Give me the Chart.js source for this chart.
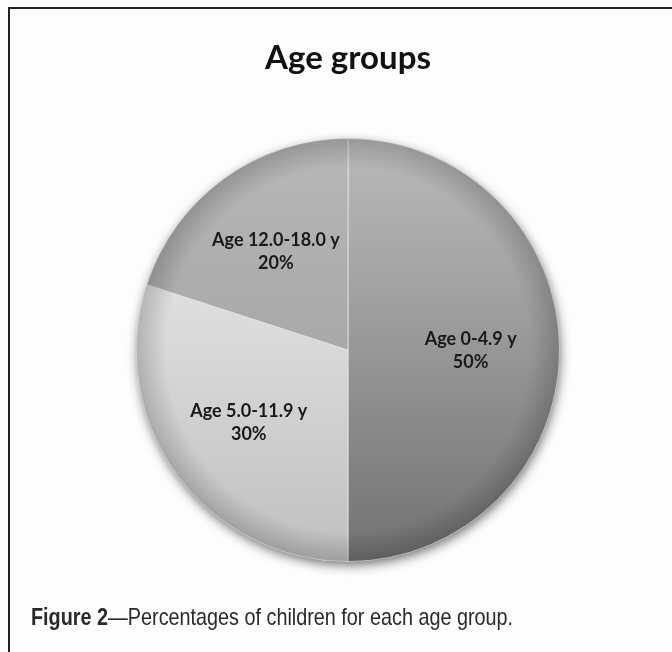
<!DOCTYPE html>
<html>
<head>
<meta charset="utf-8">
<script src="https://cdn.jsdelivr.net/npm/chart.js@4"></script>
<style>
    html, body {
        margin: 0;
        padding: 0;
        background: #fdfdfd;
    }
    .frame {
        position: relative;
        width: 672px;
        height: 652px;
        overflow: hidden;
    }
    .frame-line {
        position: absolute;
        left: 8px;
        top: 7px;
        width: 700px;
        height: 700px;
        border-top: 2px solid #222;
        border-left: 2px solid #222;
    }
    #pieChart {
        position: absolute;
        left: 0;
        top: 0;
    }
    .caption {
        position: absolute;
        left: 31px;
        top: 603px;
        font-family: 'Liberation Sans Narrow', 'Liberation Sans', Arial, sans-serif;
        font-size: 24px;
        color: #2a2a2a;
        white-space: nowrap;
        transform: scaleX(0.825);
        transform-origin: 0 0;
    }
    .caption b {
        font-weight: bold;
    }
</style>
</head>
<body>
<div class="frame">
    <div class="frame-line"></div>
    <canvas id="pieChart" width="672" height="652"></canvas>
    <div class="caption"><b>Figure 2</b>—Percentages of children for each age group.</div>
</div>
<script>
const chartTitle = 'Age groups';
const ageGroups = ['Age 0-4.9 y', 'Age 5.0-11.9 y', 'Age 12.0-18.0 y'];
const percentages = [50, 30, 20];

// gradient stops per slice, top to bottom
const sliceShades = [
    ['#bababa', '#a4a4a4', '#8a8a8a', '#727272'],
    ['#eeeeee', '#e0e0e0', '#d0d0d0', '#c0c0c0'],
    ['#b8b8b8', '#adadad', '#a4a4a4', '#9c9c9c']
];

function sliceGradient(context) {
    const chart = context.chart;
    const area = chart.chartArea;
    if (!area) {
        return sliceShades[context.dataIndex][1];
    }
    const g = chart.ctx.createLinearGradient(0, area.top, 0, area.bottom);
    const shades = sliceShades[context.dataIndex];
    shades.forEach((c, i) => g.addColorStop(i / (shades.length - 1), c));
    return g;
}

// Drop shadow under the pie, darker rim, labels and title
const pieEffects = {
    id: 'pieEffects',
    beforeDatasetsDraw(chart) {
        const arc = chart.getDatasetMeta(0).data[0];
        if (!arc) return;
        const ctx = chart.ctx;
        ctx.save();
        ctx.beginPath();
        ctx.arc(arc.x, arc.y, arc.outerRadius - 1, 0, Math.PI * 2);
        ctx.fillStyle = '#999';
        ctx.shadowColor = 'rgba(0, 0, 0, 0.6)';
        ctx.shadowBlur = 12;
        ctx.shadowOffsetX = 1;
        ctx.shadowOffsetY = 4;
        ctx.fill();
        ctx.restore();
    },
    afterDatasetsDraw(chart) {
        const meta = chart.getDatasetMeta(0);
        const first = meta.data[0];
        if (!first) return;
        const ctx = chart.ctx;
        const r = first.outerRadius;
        ctx.save();
        const rim = ctx.createRadialGradient(first.x, first.y, r * 0.86, first.x, first.y, r);
        rim.addColorStop(0, 'rgba(0, 0, 0, 0)');
        rim.addColorStop(1, 'rgba(0, 0, 0, 0.18)');
        ctx.beginPath();
        ctx.arc(first.x, first.y, r, 0, Math.PI * 2);
        ctx.fillStyle = rim;
        ctx.fill();

        // slice labels
        ctx.font = 'bold 18px Lato, "Open Sans", sans-serif';
        ctx.fillStyle = '#1a1a1a';
        ctx.textAlign = 'center';
        ctx.textBaseline = 'middle';
        meta.data.forEach((el, i) => {
            const mid = (el.startAngle + el.endAngle) / 2;
            const d = el.outerRadius * 0.58;
            const x = el.x + Math.cos(mid) * d;
            const y = el.y + Math.sin(mid) * d;
            ctx.fillText(ageGroups[i], x, y - 11);
            ctx.fillText(percentages[i] + '%', x, y + 12);
        });
        ctx.restore();

        // chart title
        ctx.save();
        ctx.font = 'bold 33px Lato, "Open Sans", sans-serif';
        ctx.fillStyle = '#111';
        ctx.textAlign = 'center';
        ctx.textBaseline = 'alphabetic';
        ctx.fillText(chartTitle, first.x, 69);
        ctx.restore();
    }
};

const ctx = document.getElementById('pieChart').getContext('2d');

const pieChart = new Chart(ctx, {
    type: 'pie',
    data: {
        labels: ageGroups,
        datasets: [
            {
                data: percentages,
                backgroundColor: sliceGradient,
                borderColor: 'rgba(235, 235, 235, 0.7)',
                borderWidth: 1
            }
        ]
    },
    options: {
        responsive: false,
        animation: false,
        layout: {
            padding: { top: 138, bottom: 90, left: 136, right: 112 }
        },
        plugins: {
            legend: { display: false },
            tooltip: { enabled: false },
            title: { display: false }
        }
    },
    plugins: [pieEffects]
});
</script>
</body>
</html>
